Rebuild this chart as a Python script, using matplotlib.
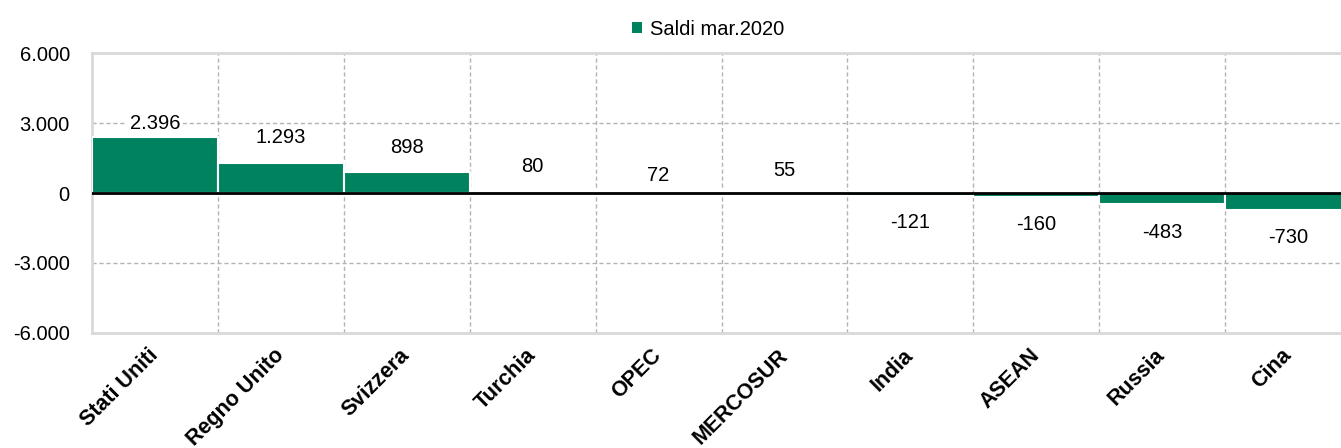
import numpy as np
import matplotlib.pyplot as plt
from matplotlib.patches import Patch

plt.rcParams["font.family"] = ["Liberation Sans", "DejaVu Sans"]

# Saldi commerciali per area (milioni di euro)
paesi = ["Stati Uniti", "Regno Unito", "Svizzera", "Turchia", "OPEC",
         "MERCOSUR", "India", "ASEAN", "Russia", "Cina"]
saldi = [2396, 1293, 898, 80, 72, 55, -121, -160, -483, -730]
etichette = ["2.396", "1.293", "898", "80", "72", "55", "-121", "-160", "-483", "-730"]
y_ticks = [-6000, -3000, 0, 3000, 6000]
y_tick_labels = ["-6.000", "-3.000", "0", "3.000", "6.000"]
serie = "Saldi mar.2020"

# spostamento verticale delle etichette (punti), come nel grafico originale
label_dy = [10, 18, 17.5, 17.5, 11.5, 15, -19, -20, -20, -20]

green = "#00825f"
grid_col = "#b3b3b3"
frame_col = "#d9d9d9"

fig = plt.figure(figsize=(13.41, 4.48), dpi=100)
ax = fig.add_axes([92 / 1341, 1 - 333 / 448, 1259 / 1341, 280 / 448])

x = np.arange(len(paesi))
ax.bar(x, saldi, width=1.0, color=green, edgecolor="white", linewidth=1.5, zorder=3)

ax.set_xlim(-0.5, len(paesi) - 0.5)
ax.set_ylim(-6000, 6000)
ax.set_yticks(y_ticks)
ax.set_yticklabels(y_tick_labels, fontsize=14.5)
ax.set_xticks(x)
ax.set_xticklabels(paesi, fontsize=15.5, fontweight="bold", rotation=45,
                   ha="right", va="center", rotation_mode="anchor")
ax.tick_params(axis="x", length=0, pad=14)
ax.tick_params(axis="y", length=0, pad=16)

# griglia tratteggiata
ax.set_xticks(np.arange(0.5, len(paesi) - 0.5, 1.0), minor=True)
ax.tick_params(axis="x", which="minor", length=0)
ax.grid(True, which="minor", axis="x", linestyle=(0, (3, 2)), color=grid_col, linewidth=1, zorder=0)
ax.grid(True, which="major", axis="y", linestyle=(0, (3, 2)), color=grid_col, linewidth=1, zorder=0)
ax.axhline(0, color="black", linewidth=2, zorder=4)

for side in ["left", "top", "bottom"]:
    ax.spines[side].set_color(frame_col)
    ax.spines[side].set_linewidth(2)
ax.spines["right"].set_visible(False)

# etichette dei valori
for xi, v, lab, dy in zip(x, saldi, etichette, label_dy):
    ax.annotate(lab, (xi, v), xytext=(0, dy), textcoords="offset points",
                ha="center", va="center", fontsize=14.5, zorder=5,
                bbox=dict(boxstyle="square,pad=0.15", fc="white", ec="none"))

fig.legend(handles=[Patch(facecolor=green, edgecolor="none", label=serie)],
           loc="center", bbox_to_anchor=(0.528, 0.935), frameon=False,
           fontsize=14.5, handlelength=0.5, handleheight=0.5, handletextpad=0.4)

plt.savefig("out.png", dpi=100)
